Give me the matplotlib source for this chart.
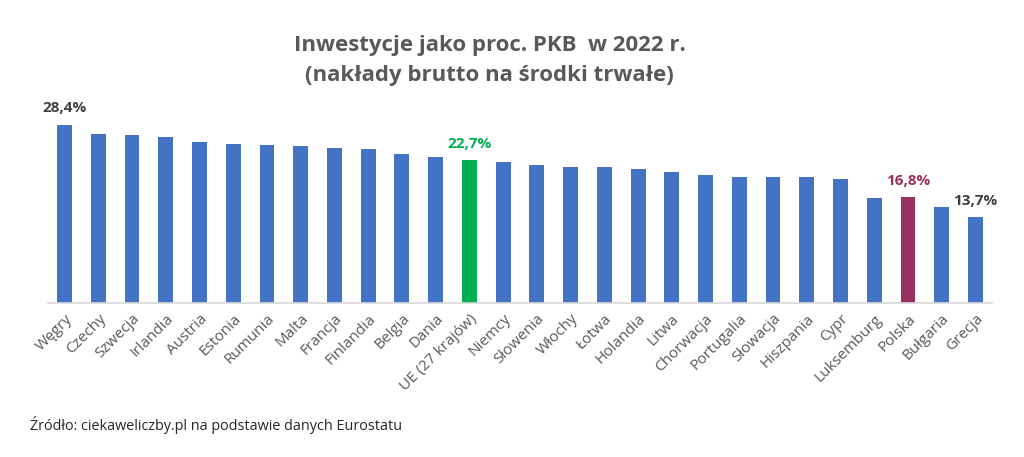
import matplotlib
matplotlib.use("Agg")
import matplotlib.pyplot as plt

countries = ["Węgry", "Czechy", "Szwecja", "Irlandia", "Austria", "Estonia", "Rumunia",
             "Malta", "Francja", "Finlandia", "Belgia", "Dania", "UE (27 krajów)", "Niemcy",
             "Słowenia", "Włochy", "Łotwa", "Holandia", "Litwa", "Chorwacja", "Portugalia",
             "Słowacja", "Hiszpania", "Cypr", "Luksemburg", "Polska", "Bułgaria", "Grecja"]
values = [28.4, 26.9, 26.8, 26.4, 25.6, 25.3, 25.2, 25.0, 24.7, 24.5, 23.8, 23.3, 22.7, 22.5,
          21.9, 21.7, 21.7, 21.3, 20.9, 20.4, 20.1, 20.1, 20.0, 19.8, 16.7, 16.8, 15.3, 13.7]
labelled = {"Węgry": "#404040", "UE (27 krajów)": "#00B050", "Polska": "#9A3060", "Grecja": "#404040"}

plt.rcParams['font.family'] = ['Open Sans', 'DejaVu Sans']

BLUE = "#4472C4"
colors = []
for c in countries:
    if c == "UE (27 krajów)":
        colors.append("#00B050")
    elif c == "Polska":
        colors.append("#9A3060")
    else:
        colors.append(BLUE)

fig = plt.figure(figsize=(10.24, 4.57), dpi=100)
ax = fig.add_axes([48/1024, 154/457, (992-48)/1024, 201/457])
x = list(range(len(countries)))
ax.bar(x, values, width=0.44, color=colors, zorder=2)
ax.set_xlim(-0.49, len(countries) - 0.51)
ax.set_ylim(0, 32)
ax.set_yticks([])
for s in ["top", "right", "left"]:
    ax.spines[s].set_visible(False)
ax.spines["bottom"].set_color("#D9D9D9")
ax.spines["bottom"].set_linewidth(1.2)
ax.set_xticks(x)
ax.set_xticklabels(countries, rotation=45, ha="right", rotation_mode="anchor",
                   fontsize=11, color="#595959")
ax.tick_params(axis="x", length=0, pad=6)

for i, (c, v) in enumerate(zip(countries, values)):
    if c in labelled:
        ax.text(i, v + 1.5, f"{v:.1f}%".replace(".", ","), ha="center", va="bottom",
                fontsize=11, fontweight="bold", color=labelled[c])

fig.text(0.478, 1 - 45/457, "Inwestycje jako proc. PKB  w 2022 r.", ha="center", va="center",
         fontsize=16, fontweight="bold", color="#595959")
fig.text(0.478, 1 - 75/457, "(nakłady brutto na środki trwałe)", ha="center", va="center",
         fontsize=16, fontweight="bold", color="#595959")
fig.text(30/1024, 1 - 425/457, "Źródło: ciekaweliczby.pl na podstawie danych Eurostatu",
         ha="left", va="center", fontsize=10.4, color="#262626")

fig.savefig("out.png", dpi=100, facecolor="white")
